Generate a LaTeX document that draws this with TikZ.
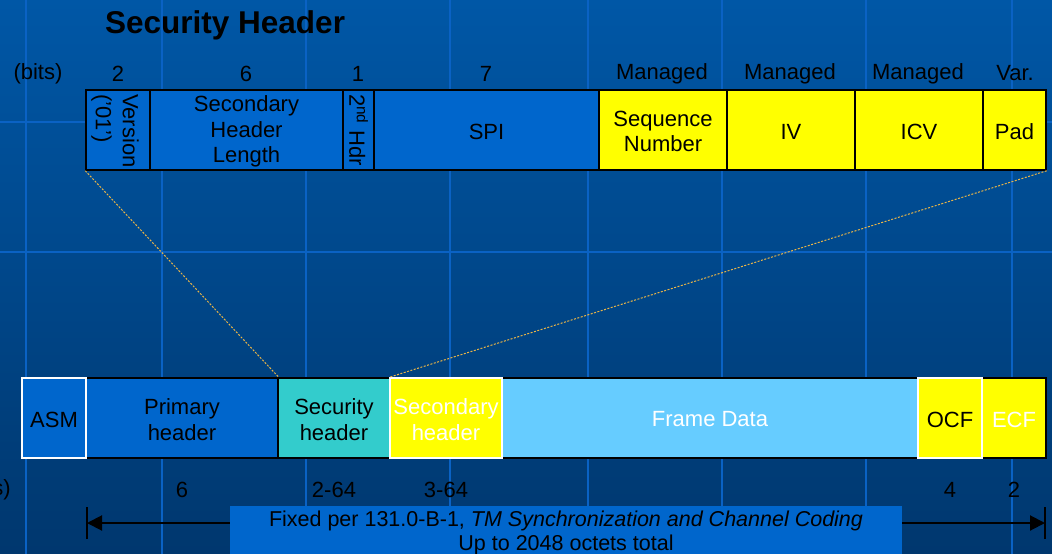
\documentclass[tikz,border=0pt]{standalone}
\usepackage{fontspec}
\setmainfont{Liberation Sans}
\usetikzlibrary{arrows.meta}
\definecolor{bgtop}{HTML}{0057A6}
\definecolor{bgbot}{HTML}{00376E}
\definecolor{gridc}{HTML}{0A62C4}
\definecolor{fblue}{HTML}{0066CC}
\definecolor{fyellow}{HTML}{FFFF00}
\definecolor{fteal}{HTML}{33CCCC}
\definecolor{flight}{HTML}{66CCFF}
\definecolor{dotc}{HTML}{E8B448}
\tikzset{
  cell/.style={draw=black, line width=1.5pt, inner sep=0pt, minimum height=80pt},
  wcell/.style={cell, draw=white},
  lbl/.style={font=\fontsize{22}{25.5}\selectfont, text=black, align=center, inner sep=0pt},
  wlbl/.style={lbl, text=white},
  gridline/.style={draw=gridc, line width=2pt},
  zoomline/.style={draw=dotc, line width=1pt, dash pattern=on 2pt off 1.5pt},
}
\begin{document}
\begin{tikzpicture}[x=1pt,y=-1pt]
\useasboundingbox (0,0) rectangle (1052,554);
\clip (0,0) rectangle (1052,554);
\shade[top color=bgtop, bottom color=bgbot] (0,0) rectangle (1052,554);
% background grid
\foreach \gx in {26,162,306,450,588,722,866,1012} {
  \draw[gridline] (\gx,0) -- (\gx,554);
}
\draw[gridline] (0,122) -- (1052,122);
\draw[gridline] (0,252) -- (1052,252);

% title
\node[anchor=west, inner sep=0pt, font=\fontsize{31.5}{36}\selectfont\bfseries] (title) at (105,25) {Security Header};

% top labels
\node[lbl] (tb) at (38,73.5) {(bits)};
\node[lbl] (t1) at (118,73.5) {2};
\node[lbl] (t2) at (246,73.5) {6};
\node[lbl] (t3) at (358,73.5) {1};
\node[lbl] (t4) at (486,73.5) {7};
\node[lbl] (t5) at (662,73.5) {Managed};
\node[lbl] (t6) at (790,73.5) {Managed};
\node[lbl] (t7) at (918,73.5) {Managed};
\node[lbl] (t8) at (1015,73.5) {Var.};

% top row
\node[cell, fill=fblue, minimum width=64pt] (ver) at (118,130) {};
\node[cell, fill=fblue, minimum width=193pt] (shl) at (246.5,130) {};
\node[cell, fill=fblue, minimum width=31pt] (hdr) at (358.5,130) {};
\node[cell, fill=fblue, minimum width=225pt] (spi) at (486.5,130) {};
\node[cell, fill=fyellow, minimum width=128pt] (seq) at (663,130) {};
\node[cell, fill=fyellow, minimum width=128pt] (iv) at (791,130) {};
\node[cell, fill=fyellow, minimum width=128pt] (icv) at (919,130) {};
\node[cell, fill=fyellow, minimum width=63pt] (pad) at (1014.5,130) {};

\node[lbl, rotate=-90, anchor=west, align=left, font=\fontsize{22}{27}\selectfont] (vertxt) at (115,94) {Version\\('01')};
\node[lbl] (shltxt) at ([yshift=-1.5pt]shl.center) {Secondary\\Header\\Length};
\node[lbl, rotate=-90, anchor=west] (hdrtxt) at (358.5,94) {2\textsuperscript{nd} Hdr};
\node[lbl] (spitxt) at ([yshift=-1.5pt]spi.center) {SPI};
\node[lbl] (seqtxt) at ([yshift=-1.5pt]seq.center) {Sequence\\Number};
\node[lbl] (ivtxt) at ([yshift=-1.5pt]iv.center) {IV};
\node[lbl] (icvtxt) at ([yshift=-1.5pt]icv.center) {ICV};
\node[lbl] (padtxt) at ([yshift=-1.5pt]pad.center) {Pad};

% bottom row
\node[cell, fill=fblue, minimum width=192pt] (ph) at (182,418) {};
\node[cell, fill=fteal, minimum width=112pt] (sech) at (334,418) {};
\node[cell, fill=flight, minimum width=416pt] (fd) at (710,418) {};
\node[cell, fill=fyellow, minimum width=64pt] (ecf) at (1014,418) {};
\node[wcell, fill=fblue, minimum width=64pt] (asm) at (54,418) {};
\node[wcell, fill=fyellow, minimum width=112pt] (sec2) at (446,418) {};
\node[wcell, fill=fyellow, minimum width=64pt] (ocf) at (950,418) {};

\node[lbl] (asmtxt) at ([yshift=-1.5pt]asm.center) {ASM};
\node[lbl] (phtxt) at ([yshift=-1.5pt]ph.center) {Primary\\header};
\node[lbl] (sechtxt) at ([yshift=-1.5pt]sech.center) {Security\\header};
\node[wlbl] (sec2txt) at ([yshift=-1.5pt]sec2.center) {Secondary\\header};
\node[wlbl] (fdtxt) at ([yshift=-1.5pt]fd.center) {Frame Data};
\node[lbl] (ocftxt) at ([yshift=-1.5pt]ocf.center) {OCF};
\node[wlbl] (ecftxt) at ([yshift=-1.5pt]ecf.center) {ECF};

% zoom lines
\draw[zoomline] (ver.south west) -- (ph.north east);
\draw[zoomline] (pad.south east) -- (sec2.north west);

% bottom labels
\node[lbl, anchor=east] (bb) at (11,489.5) {(bits)};
\node[lbl] (b1) at (182,489.5) {6};
\node[lbl] (b2) at (334,489.5) {2-64};
\node[lbl] (b3) at (446,489.5) {3-64};
\node[lbl] (b4) at (950,489.5) {4};
\node[lbl] (b5) at (1014,489.5) {2};

% length arrow
\coordinate (aL) at (87,523);
\coordinate (aR) at (1045,523);
\draw[line width=2pt] ([yshift=-16pt]aL) -- ([yshift=16pt]aL);
\draw[line width=2pt] ([yshift=-16pt]aR) -- ([yshift=16pt]aR);
\draw[line width=2pt, {Triangle[length=15pt,width=15pt]}-{Triangle[length=15pt,width=15pt]}] (aL) -- (aR);
\node[fill=fblue, minimum width=672pt, minimum height=54pt, inner sep=0pt] (note) at (566,533) {};
\node[lbl, font=\fontsize{21.5}{24}\selectfont] (notetxt) at (566,533) {Fixed per 131.0-B-1, \textit{TM Synchronization and Channel Coding}\\Up to 2048 octets total};
\end{tikzpicture}
\end{document}
